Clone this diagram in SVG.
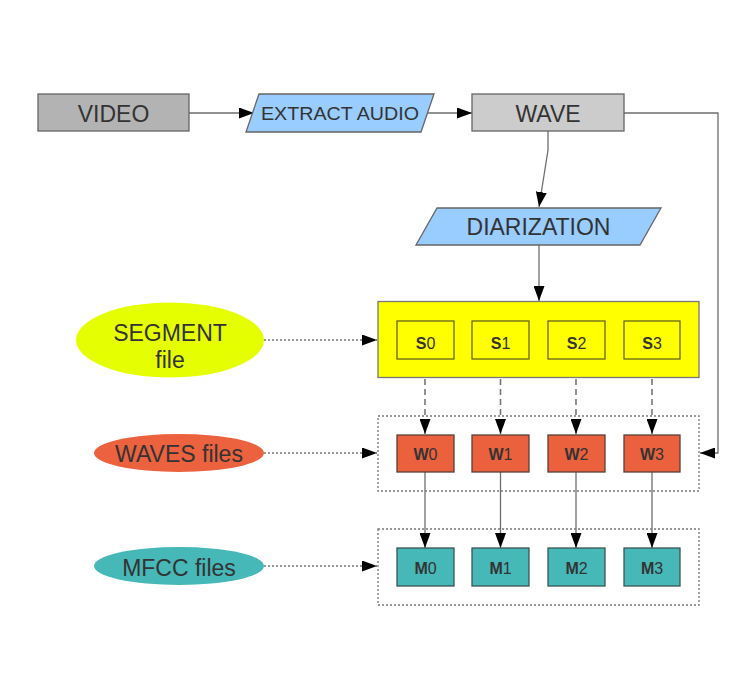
<svg xmlns="http://www.w3.org/2000/svg" width="756" height="680" viewBox="0 0 756 680">
<style>
text{font-family:"Liberation Sans",Arial,sans-serif;fill:#333333;text-anchor:middle}
.big{font-size:23px}
.lbl{font-size:16px}
.lbl .b{font-weight:bold}
.box{stroke:#666666;stroke-width:1.3}
.ln{fill:none;stroke:#6e6e6e;stroke-width:1.3}
.dash{fill:none;stroke:#777777;stroke-width:1.6;stroke-dasharray:6,4}
.dot{fill:none;stroke:#777777;stroke-width:1.3;stroke-dasharray:2,2}
.sbox{fill:#ffff00;stroke:#66661a;stroke-width:1.3}
.wbox{fill:#eb613d;stroke:#5a4038;stroke-width:1.3}
.mbox{fill:#46b8b8;stroke:#3d5555;stroke-width:1.3}
</style>
<defs>
<marker id="arr" markerWidth="15" markerHeight="11" refX="15" refY="5.5" orient="auto" markerUnits="userSpaceOnUse">
<path d="M0,0 L15,5.5 L0,11 Z" fill="#000"/>
</marker>
</defs>
<rect width="756" height="680" fill="#ffffff"/>

<g id="connectors">
<line class="ln" x1="189" y1="113" x2="254" y2="113" marker-end="url(#arr)"/>
<line class="ln" x1="428" y1="113" x2="472" y2="113" marker-end="url(#arr)"/>
<polyline class="ln" points="548,131 548,150 539,207" marker-end="url(#arr)"/>
<line class="ln" x1="539" y1="245" x2="539" y2="301" marker-end="url(#arr)"/>
<polyline class="ln" points="624,113 718,113 718,453 700,453" marker-end="url(#arr)"/>
<line class="dot" x1="264" y1="340" x2="377" y2="340" marker-end="url(#arr)"/>
<line class="dot" x1="264" y1="453" x2="377" y2="453" marker-end="url(#arr)"/>
<line class="dot" x1="264" y1="566" x2="377" y2="566" marker-end="url(#arr)"/>
<line class="dash" x1="425" y1="359" x2="425" y2="434" marker-end="url(#arr)"/>
<line class="dash" x1="500.5" y1="359" x2="500.5" y2="434" marker-end="url(#arr)"/>
<line class="dash" x1="576" y1="359" x2="576" y2="434" marker-end="url(#arr)"/>
<line class="dash" x1="652" y1="359" x2="652" y2="434" marker-end="url(#arr)"/>
<line class="ln" x1="425" y1="472" x2="425" y2="548" marker-end="url(#arr)"/>
<line class="ln" x1="500.5" y1="472" x2="500.5" y2="548" marker-end="url(#arr)"/>
<line class="ln" x1="576" y1="472" x2="576" y2="548" marker-end="url(#arr)"/>
<line class="ln" x1="652" y1="472" x2="652" y2="548" marker-end="url(#arr)"/>
</g>

<g id="video">
<rect class="box" x="38" y="94" width="151" height="37" fill="#b3b3b3"/>
<text class="big" x="113.5" y="122">VIDEO</text>
</g>
<g id="extract-audio">
<polygon class="box" points="259,94 434,94 421,132 246,132" fill="#99ccff"/>
<text x="340" y="120" font-size="19" textLength="158" lengthAdjust="spacingAndGlyphs">EXTRACT AUDIO</text>
</g>
<g id="wave">
<rect class="box" x="472" y="94" width="152" height="37" fill="#cccccc"/>
<text class="big" x="548" y="122">WAVE</text>
</g>
<g id="diarization">
<polygon class="box" points="437,208 661,208 640,245 416,245" fill="#99ccff"/>
<text class="big" x="538.5" y="235">DIARIZATION</text>
</g>

<g id="segment-file">
<ellipse cx="170" cy="340" rx="94" ry="37.5" fill="#e6ff00"/>
<text class="big" x="170" y="340.5">SEGMENT</text>
<text class="big" x="170" y="367.5">file</text>
</g>
<g id="waves-files">
<ellipse cx="179" cy="453" rx="85" ry="19" fill="#ec613e"/>
<text class="big" x="179" y="461.5">WAVES files</text>
</g>
<g id="mfcc-files">
<ellipse cx="179" cy="566" rx="85" ry="19" fill="#46b8b8"/>
<text class="big" x="179" y="576">MFCC files</text>
</g>

<g id="segments">
<rect x="378" y="301.5" width="321" height="76" fill="#ffff00" stroke="#777777" stroke-width="1.3"/>
</g>
<g id="s0"><rect class="sbox" x="397" y="321" width="57" height="38"/><text class="lbl" x="425.5" y="348.5"><tspan class="b">S</tspan>0</text></g>
<g id="s1"><rect class="sbox" x="472" y="321" width="57" height="38"/><text class="lbl" x="500.5" y="348.5"><tspan class="b">S</tspan>1</text></g>
<g id="s2"><rect class="sbox" x="548" y="321" width="57" height="38"/><text class="lbl" x="576.5" y="348.5"><tspan class="b">S</tspan>2</text></g>
<g id="s3"><rect class="sbox" x="624" y="321" width="56" height="38"/><text class="lbl" x="652" y="348.5"><tspan class="b">S</tspan>3</text></g>

<g id="waves">
<rect class="dot" x="378" y="416" width="321" height="75"/>
</g>
<g id="w0"><rect class="wbox" x="397" y="435" width="57" height="37"/><text class="lbl" x="425.5" y="459.5"><tspan class="b">W</tspan>0</text></g>
<g id="w1"><rect class="wbox" x="472" y="435" width="57" height="37"/><text class="lbl" x="500.5" y="459.5"><tspan class="b">W</tspan>1</text></g>
<g id="w2"><rect class="wbox" x="548" y="435" width="57" height="37"/><text class="lbl" x="576.5" y="459.5"><tspan class="b">W</tspan>2</text></g>
<g id="w3"><rect class="wbox" x="624" y="435" width="56" height="37"/><text class="lbl" x="652" y="459.5"><tspan class="b">W</tspan>3</text></g>

<g id="mfccs">
<rect class="dot" x="378" y="529" width="321" height="76"/>
</g>
<g id="m0"><rect class="mbox" x="397" y="548" width="57" height="38"/><text class="lbl" x="425.5" y="573.5"><tspan class="b">M</tspan>0</text></g>
<g id="m1"><rect class="mbox" x="472" y="548" width="57" height="38"/><text class="lbl" x="500.5" y="573.5"><tspan class="b">M</tspan>1</text></g>
<g id="m2"><rect class="mbox" x="548" y="548" width="57" height="38"/><text class="lbl" x="576.5" y="573.5"><tspan class="b">M</tspan>2</text></g>
<g id="m3"><rect class="mbox" x="624" y="548" width="56" height="38"/><text class="lbl" x="652" y="573.5"><tspan class="b">M</tspan>3</text></g>
</svg>
